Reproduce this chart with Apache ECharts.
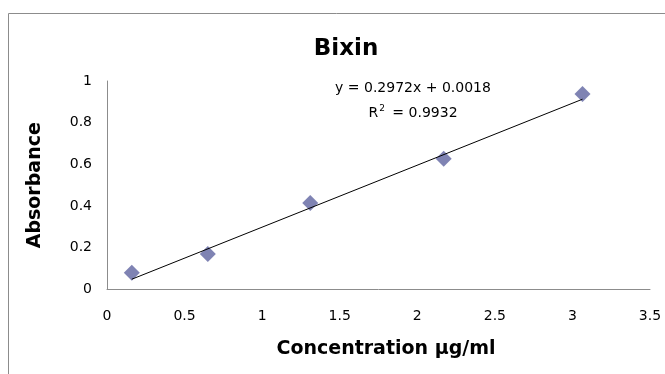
<!DOCTYPE html>
<html><head><meta charset="utf-8">
<script src="https://cdn.jsdelivr.net/npm/echarts@6/dist/echarts.min.js"></script>
<style>html,body{margin:0;padding:0;background:#fff}#c{width:665px;height:374px}</style>
</head><body><div id="c"></div>
<script>
const concentration = [0.16, 0.65, 1.31, 2.17, 3.065];
const absorbance = [0.08, 0.17, 0.415, 0.627, 0.938];
const slope = 0.2972, intercept = 0.0018;
const xTicks = [0, 0.5, 1, 1.5, 2, 2.5, 3, 3.5];
const yTicks = [0, 0.2, 0.4, 0.6, 0.8, 1];
const eqText = 'y = 0.2972x + 0.0018';
const r2Text = '0.9932';

const points = concentration.map((x, i) => [x, absorbance[i]]);
const xMin = concentration[0], xMax = concentration[concentration.length - 1];
const trend = [[xMin, slope * xMin + intercept], [xMax, slope * xMax + intercept]];

const chart = echarts.init(document.getElementById('c'));
const font = 'DejaVu Sans';
const boldFont = 'DejaVu Sans';
chart.setOption({
  animation: false,
  title: { text: 'Bixin', left: 341, top: 33, textAlign: 'center',
    textStyle: { fontFamily: boldFont, fontWeight: 'bold', fontSize: 23, color: '#000' } },
  graphic: [
    { type: 'line', shape: { x1: 8.5, y1: 13.5, x2: 665, y2: 13.5 }, style: { stroke: '#8c8c8c', lineWidth: 1 }, silent: true },
    { type: 'line', shape: { x1: 8.5, y1: 13.5, x2: 8.5, y2: 374 }, style: { stroke: '#8c8c8c', lineWidth: 1 }, silent: true },
    { type: 'text', x: 413, y: 88, style: { text: eqText, fontSize: 14, fontFamily: font, fill: '#000', align: 'center', verticalAlign: 'middle' } },
    { type: 'text', x: 413, y: 113, style: {
        text: 'R{sup|2} = ' + r2Text, align: 'center', verticalAlign: 'middle',
        fontSize: 14, fontFamily: font, fill: '#000',
        rich: { sup: { fontSize: 9, fontFamily: font, verticalAlign: 'top', padding: [0, 3, 9, 1], fill: '#000' } } } }
  ],
  grid: { left: 107, right: 15, top: 81, bottom: 84.5, containLabel: false },
  xAxis: {
    type: 'value', min: 0, max: 3.5, interval: 0.5,
    name: 'Concentration µg/ml', nameLocation: 'middle', nameGap: 50,
    nameTextStyle: { fontFamily: boldFont, fontWeight: 'bold', fontSize: 19, color: '#000', padding: [0, 0, 0, 15] },
    axisLine: { show: true, lineStyle: { color: '#8c8c8c', width: 1 } },
    axisTick: { show: false }, splitLine: { show: false },
    axisLabel: { fontFamily: font, fontSize: 14, color: '#000', margin: 20,
      formatter: v => xTicks.includes(v) ? String(v) : '' }
  },
  yAxis: {
    type: 'value', min: 0, max: 1, interval: 0.2,
    name: 'Absorbance', nameLocation: 'middle', nameGap: 62, nameRotate: 90,
    nameTextStyle: { fontFamily: boldFont, fontWeight: 'bold', fontSize: 19, color: '#000' },
    axisLine: { show: true, lineStyle: { color: '#8c8c8c', width: 1 } },
    axisTick: { show: false }, splitLine: { show: false },
    axisLabel: { fontFamily: font, fontSize: 14, color: '#000', margin: 15,
      verticalAlign: 'middle', padding: [8, 0, 0, 0],
      formatter: v => { const t = yTicks.find(y => Math.abs(y - v) < 1e-9); return t === undefined ? '' : String(t); } }
  },
  series: [
    { type: 'line', data: trend, symbol: 'none', lineStyle: { color: '#000', width: 1 }, z: 3 },
    { type: 'scatter', data: points, symbol: 'diamond', symbolSize: [16, 16],
      itemStyle: { color: '#5f64a0' }, z: 2 }
  ]
});
</script></body></html>
